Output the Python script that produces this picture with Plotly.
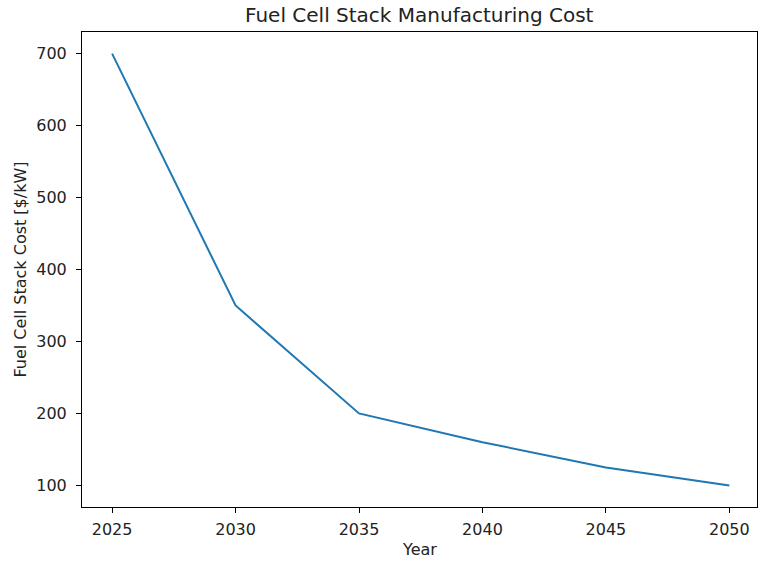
import plotly.graph_objects as go

years = [2025, 2030, 2035, 2040, 2045, 2050]
stack_cost = [700, 350, 200, 160, 125, 100]

x_ticks = [2025, 2030, 2035, 2040, 2045, 2050]
y_ticks = [100, 200, 300, 400, 500, 600, 700]

W, H = 758, 567
L, R, T, B = 82, 1, 32, 60

font = "DejaVu Sans"

fig = go.Figure(
    go.Scatter(
        x=years,
        y=stack_cost,
        mode="lines",
        line=dict(color="#1f77b4", width=2),
        showlegend=False,
    )
)

axis_common = dict(
    showgrid=False,
    zeroline=False,
    showline=True,
    linecolor="black",
    linewidth=1,
    mirror=True,
    ticks="outside",
    ticklen=5,
    tickwidth=1,
    tickcolor="black",
    tickfont=dict(family=font, size=16, color="#222"),
)

fig.update_xaxes(range=[2023.78, 2051.12], tickvals=x_ticks,
                 ticklabelstandoff=3, **axis_common)
fig.update_yaxes(range=[70, 730], tickvals=y_ticks,
                 ticklabelstandoff=6, **axis_common)

fig.update_layout(
    width=W,
    height=H,
    margin=dict(l=L, r=R, t=T, b=B),
    plot_bgcolor="white",
    paper_bgcolor="white",
    font=dict(family=font, color="#222"),
    annotations=[
        dict(
            text="Fuel Cell Stack Manufacturing Cost",
            xref="paper", yref="paper",
            x=0.5, y=1, yshift=17,
            xanchor="center", yanchor="middle",
            showarrow=False,
            font=dict(family=font, size=20, color="#222"),
        ),
        dict(
            text="Year",
            xref="paper", yref="paper",
            x=0.5, y=0, yshift=-42,
            xanchor="center", yanchor="middle",
            showarrow=False,
            font=dict(family=font, size=16, color="#222"),
        ),
        dict(
            text="Fuel Cell Stack Cost [$/kW]",
            xref="paper", yref="paper",
            x=0, y=0.5, xshift=-62,
            xanchor="center", yanchor="middle",
            textangle=-90,
            showarrow=False,
            font=dict(family=font, size=16, color="#222"),
        ),
    ],
)

fig.write_html("out.html")
